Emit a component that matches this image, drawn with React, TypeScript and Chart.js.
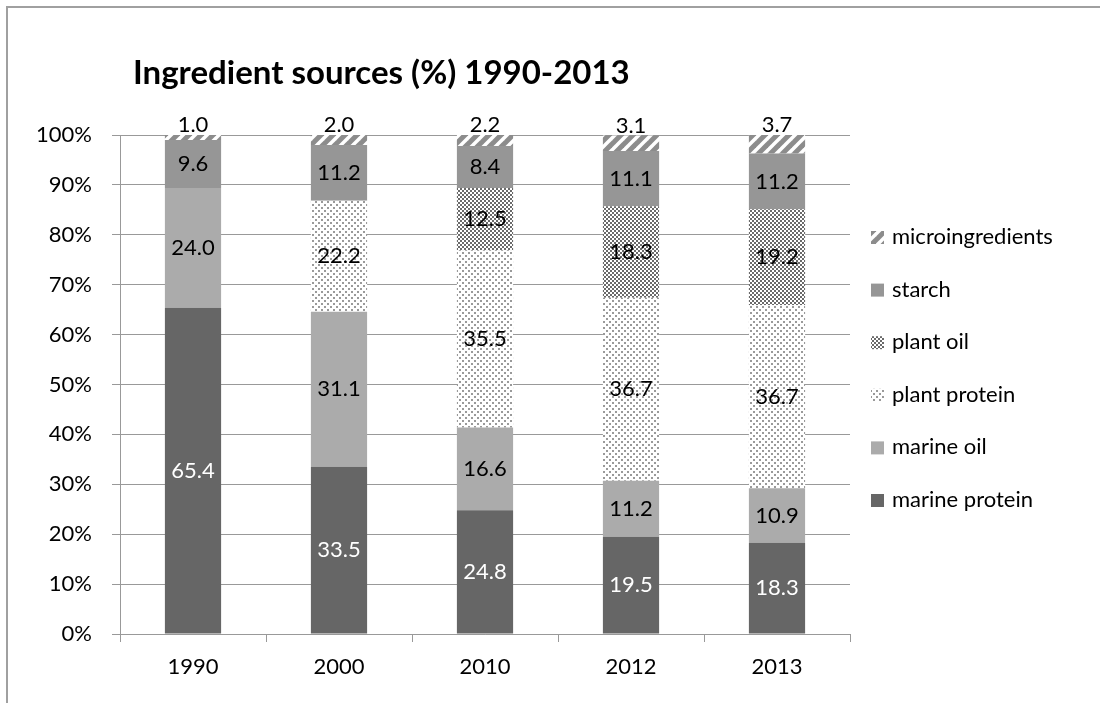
import React, { useEffect, useRef } from "react";
import { Chart, registerables } from "chart.js";

Chart.register(...registerables);

const years = ["1990", "2000", "2010", "2012", "2013"];
const marineProtein = [65.4, 33.5, 24.8, 19.5, 18.3];
const marineOil = [24.0, 31.1, 16.6, 11.2, 10.9];
const plantProtein = [0, 22.2, 35.5, 36.7, 36.7];
const plantOil = [0, 0, 12.5, 18.3, 19.2];
const starch = [9.6, 11.2, 8.4, 11.1, 11.2];
const microingredients = [1.0, 2.0, 2.2, 3.1, 3.7];
const seriesNames = ["marine protein", "marine oil", "plant protein", "plant oil", "starch", "microingredients"];
const yTicks = [0, 10, 20, 30, 40, 50, 60, 70, 80, 90, 100];
const titleText = "Ingredient sources (%) 1990-2013";

const FONT = "Lato, 'Open Sans', sans-serif";
const FS = 22;

function makePattern(w: number, h: number, draw: (c: CanvasRenderingContext2D) => void) {
  const c = document.createElement("canvas");
  c.width = w;
  c.height = h;
  const ctx = c.getContext("2d")!;
  draw(ctx);
  return ctx.createPattern(c, "repeat")!;
}

export default function App() {
  const ref = useRef<HTMLCanvasElement>(null);

  useEffect(() => {
    const canvas = ref.current!;
    const dotted = makePattern(6, 6, (c) => {
      c.fillStyle = "#ffffff";
      c.fillRect(0, 0, 6, 6);
      c.fillStyle = "#9a9a9a";
      c.fillRect(0, 0, 2, 2);
      c.fillRect(3, 3, 2, 2);
    });
    const checker = makePattern(4, 4, (c) => {
      c.fillStyle = "#ffffff";
      c.fillRect(0, 0, 4, 4);
      c.fillStyle = "#6a6a6a";
      c.fillRect(0, 0, 2, 2);
      c.fillRect(2, 2, 2, 2);
    });
    const stripes = makePattern(12, 12, (c) => {
      c.fillStyle = "#ffffff";
      c.fillRect(0, 0, 12, 12);
      c.strokeStyle = "#8c8c8c";
      c.lineWidth = 5;
      for (const o of [-12, 0, 12]) {
        c.beginPath();
        c.moveTo(o - 2, 14);
        c.lineTo(o + 14, -2);
        c.stroke();
      }
    });

    const fills: any[] = ["#666666", "#ababab", dotted, checker, "#969696", stripes];
    const values = [marineProtein, marineOil, plantProtein, plantOil, starch, microingredients];

    const labelPlugin = {
      id: "labelsAndLegend",
      afterDatasetsDraw(chart: any) {
        const ctx = chart.ctx;
        ctx.save();
        ctx.font = `${FS}px ${FONT}`;
        ctx.textAlign = "center";
        chart.data.datasets.forEach((ds: any, di: number) => {
          const meta = chart.getDatasetMeta(di);
          meta.data.forEach((bar: any, i: number) => {
            const v = ds.data[i];
            if (!v) return;
            if (di === 5) {
              ctx.fillStyle = "#000";
              ctx.textBaseline = "bottom";
              ctx.fillText(v.toFixed(1), bar.x, bar.y + 1);
            } else {
              ctx.fillStyle = di === 0 ? "#ffffff" : "#000000";
              ctx.textBaseline = "middle";
              ctx.fillText(v.toFixed(1), bar.x, (bar.y + bar.base) / 2);
            }
          });
        });
        ctx.restore();
      },
      afterDraw(chart: any) {
        const ctx = chart.ctx;
        const area = chart.chartArea;
        ctx.save();
        // outer frame (top and left edges visible)
        ctx.fillStyle = "#a0a0a0";
        ctx.fillRect(6, 6, chart.width - 6, 2);
        ctx.fillRect(6, 6, 2, chart.height - 6);
        // title
        ctx.font = `bold 33px ${FONT}`;
        ctx.fillStyle = "#000";
        ctx.textAlign = "left";
        ctx.textBaseline = "alphabetic";
        ctx.fillText(titleText, area.left + 13, area.top - 51);
        // legend
        ctx.font = `${FS}px ${FONT}`;
        ctx.textBaseline = "middle";
        const n = chart.data.datasets.length;
        for (let k = 0; k < n; k++) {
          const di = n - 1 - k;
          const ds = chart.data.datasets[di];
          const cy = area.top + 102 + k * 52.6;
          const bx = area.right + 21;
          ctx.fillStyle = ds.backgroundColor;
          ctx.fillRect(bx, cy - 6, 13, 13);
          ctx.fillStyle = "#000";
          ctx.fillText(ds.label, bx + 21, cy);
        }
        ctx.restore();
      },
    };

    const chart = new Chart(canvas, {
      type: "bar",
      data: {
        labels: years,
        datasets: values.map((d, i) => ({
          label: seriesNames[i],
          data: d,
          backgroundColor: fills[i],
          borderWidth: 0,
          barPercentage: 0.385,
          categoryPercentage: 1,
        })),
      },
      options: {
        responsive: false,
        animation: false,
        devicePixelRatio: 1,
        layout: { padding: { top: 135, right: 250, left: 0, bottom: 0 } },
        plugins: {
          legend: { display: false },
          title: { display: false },
          tooltip: { enabled: false },
        },
        scales: {
          x: {
            stacked: true,
            grid: { drawOnChartArea: false, drawTicks: true, tickLength: 8, color: "#999999", offset: true },
            border: { display: true, color: "#999999", width: 1 },
            ticks: { color: "#000", font: { family: FONT, size: FS }, padding: 12 },
            afterFit: (s: any) => {
              s.height = 69;
            },
          },
          y: {
            stacked: true,
            min: 0,
            max: 100,
            afterBuildTicks: (s: any) => {
              s.ticks = yTicks.map((v) => ({ value: v }));
            },
            grid: { color: "#999999", drawTicks: true, tickLength: 8 },
            border: { display: true, color: "#999999", width: 1 },
            ticks: {
              color: "#000",
              font: { family: FONT, size: FS },
              padding: 20,
              callback: (v: any) => v + "%",
            },
            afterFit: (s: any) => {
              s.width = 120;
            },
          },
        },
      },
      plugins: [labelPlugin],
    });
    return () => chart.destroy();
  }, []);

  return (
    <div style={{ position: "fixed", left: 0, top: 0, width: 1100, height: 703, overflow: "hidden" }}>
      <canvas ref={ref} width={1100} height={703} style={{ display: "block" }} />
    </div>
  );
}
